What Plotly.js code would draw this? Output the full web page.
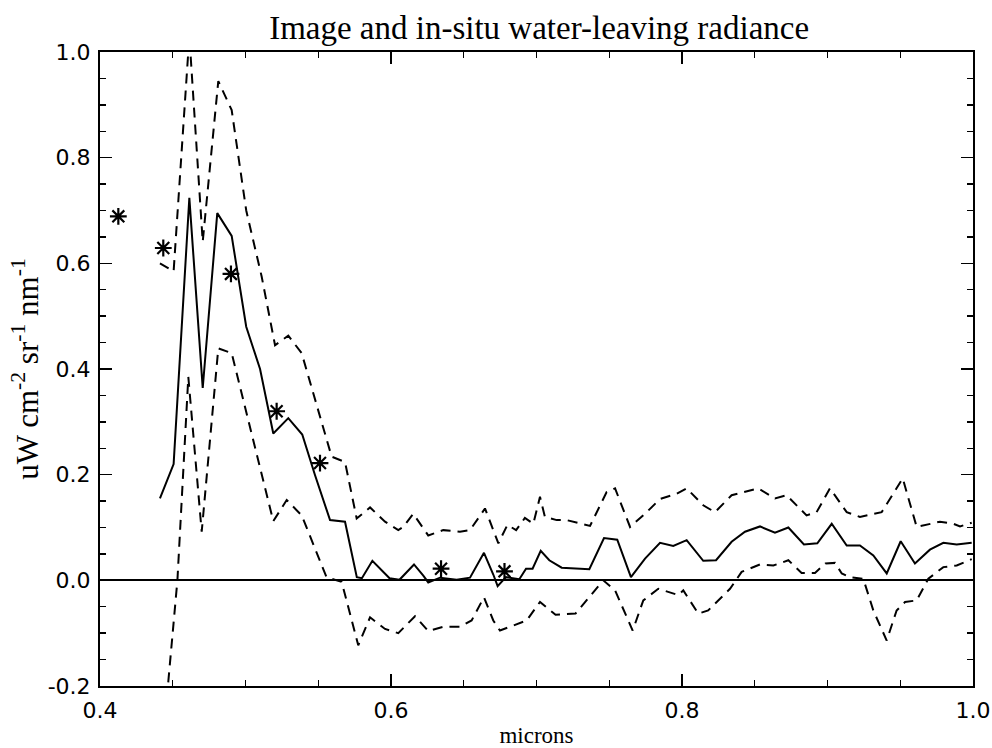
<!DOCTYPE html>
<html>
<head>
<meta charset="utf-8">
<script src="https://cdn.plot.ly/plotly-3.0.1.min.js"></script>
<style>html,body{margin:0;padding:0;background:#fff;}#chart{width:992px;height:748px;}</style>
</head>
<body>
<div id="chart"></div>
<script>
// Image (mean) water-leaving radiance
const imageX = [0.4412,0.4506,0.4614,0.4706,0.4806,0.4905,0.5005,0.5100,0.5191,0.5294,0.5390,0.5478,0.5581,0.5684,0.5765,0.5800,0.5872,0.5990,0.6058,0.6158,0.6222,0.6256,0.6337,0.6451,0.6543,0.6639,0.6703,0.6733,0.6790,0.6882,0.6928,0.6973,0.7029,0.7088,0.7173,0.7363,0.7464,0.7555,0.7649,0.7746,0.7849,0.7940,0.8032,0.8146,0.8234,0.8341,0.8433,0.8536,0.8639,0.8731,0.8838,0.8930,0.9029,0.9132,0.9223,0.9315,0.9407,0.9503,0.9601,0.9704,0.9796,0.9888,0.9991];
const imageY = [0.155,0.220,0.724,0.364,0.695,0.652,0.480,0.400,0.278,0.307,0.276,0.199,0.114,0.111,0.006,0.004,0.037,0.004,0.001,0.030,0.009,-0.004,0.005,0.001,0.005,0.052,0.011,-0.011,0.006,0.002,0.022,0.022,0.056,0.038,0.024,0.021,0.080,0.077,0.006,0.041,0.071,0.065,0.076,0.037,0.038,0.073,0.092,0.102,0.090,0.100,0.068,0.070,0.107,0.066,0.066,0.047,0.013,0.074,0.032,0.058,0.071,0.068,0.071];

// Upper bound (dashed)
const upperX = [0.4412,0.4506,0.4614,0.4706,0.4813,0.4905,0.5005,0.5111,0.5203,0.5294,0.5386,0.5490,0.5592,0.5684,0.5764,0.5856,0.5959,0.6050,0.6084,0.6153,0.6256,0.6359,0.6474,0.6543,0.6646,0.6738,0.6800,0.6860,0.6920,0.6978,0.7024,0.7058,0.7139,0.7207,0.7368,0.7482,0.7540,0.7643,0.7757,0.7849,0.7963,0.8032,0.8146,0.8227,0.8341,0.8524,0.8639,0.8719,0.8856,0.8925,0.9017,0.9132,0.9223,0.9372,0.9517,0.9613,0.9773,0.9865,0.9911,0.9991];
const upperY = [0.600,0.585,1.030,0.641,0.945,0.890,0.700,0.575,0.445,0.463,0.430,0.330,0.234,0.224,0.117,0.138,0.111,0.095,0.101,0.126,0.085,0.095,0.092,0.095,0.136,0.070,0.105,0.095,0.118,0.107,0.158,0.120,0.114,0.114,0.103,0.167,0.174,0.101,0.129,0.154,0.164,0.174,0.142,0.129,0.161,0.174,0.155,0.161,0.123,0.129,0.174,0.129,0.120,0.129,0.193,0.101,0.111,0.107,0.102,0.109];

// Lower bound (dashed)
const lowerX = [0.4412,0.4470,0.4532,0.4607,0.4699,0.4813,0.4905,0.5005,0.5100,0.5191,0.5283,0.5386,0.5557,0.5661,0.5775,0.5856,0.5959,0.6050,0.6165,0.6256,0.6359,0.6474,0.6554,0.6639,0.6703,0.6749,0.6932,0.7024,0.7131,0.7268,0.7459,0.7540,0.7661,0.7734,0.7837,0.7975,0.8009,0.8112,0.8180,0.8330,0.8410,0.8536,0.8628,0.8731,0.8822,0.8914,0.8986,0.9052,0.9098,0.9155,0.9246,0.9315,0.9407,0.9475,0.9533,0.9613,0.9693,0.9796,0.9888,0.9991];
const lowerY = [-0.450,-0.190,0.000,0.385,0.092,0.439,0.430,0.320,0.210,0.112,0.152,0.123,0.006,-0.003,-0.123,-0.070,-0.092,-0.100,-0.068,-0.096,-0.088,-0.088,-0.076,-0.032,-0.076,-0.095,-0.076,-0.041,-0.065,-0.063,0.000,-0.019,-0.095,-0.038,-0.016,-0.028,-0.019,-0.063,-0.057,-0.016,0.016,0.030,0.028,0.038,0.014,0.014,0.032,0.033,0.013,0.006,0.003,-0.057,-0.114,-0.057,-0.041,-0.038,0.003,0.025,0.028,0.040];

// In-situ measurements (asterisks)
const insituX = [0.4126,0.4435,0.4900,0.5214,0.5512,0.6344,0.6780];
const insituY = [0.689,0.629,0.580,0.320,0.222,0.022,0.017];

// Axis ticks
const xTickVals = [0.4,0.6,0.8,1.0];
const xTickText = ["0.4","0.6","0.8","1.0"];
const yTickVals = [-0.2,0.0,0.2,0.4,0.6,0.8,1.0];
const yTickText = ["-0.2","0.0","0.2","0.4","0.6","0.8","1.0"];

const dashStyle = "10px,7px";
const traces = [
  {x: upperX, y: upperY, mode: "lines", line: {color: "#000", width: 2, dash: dashStyle}, hoverinfo: "skip"},
  {x: lowerX, y: lowerY, mode: "lines", line: {color: "#000", width: 2, dash: dashStyle}, hoverinfo: "skip"},
  {x: imageX, y: imageY, mode: "lines", line: {color: "#000", width: 2}, hoverinfo: "skip"},
  {x: insituX, y: insituY, mode: "markers", marker: {symbol: "asterisk-open", size: 14, color: "#000", line: {color: "#000", width: 2.2}}, hoverinfo: "skip"}
];

const axisCommon = {
  showgrid: false, showline: true, linecolor: "#000", linewidth: 2,
  mirror: "allticks", ticks: "inside", ticklen: 12, tickwidth: 1.6, tickcolor: "#000",
  tickfont: {family: "DejaVu Sans", size: 22, color: "#000"},
  minor: {ticks: "inside", ticklen: 6, tickwidth: 1.4, tickcolor: "#000", dtick: 0.05, showgrid: false}
};

const layout = {
  width: 992, height: 748,
  paper_bgcolor: "#fff", plot_bgcolor: "#fff",
  showlegend: false,
  margin: {l: 100, r: 19, t: 52, b: 62},
  title: {text: "Image and in-situ water-leaving radiance", font: {family: "Liberation Serif, serif", size: 33, color: "#000"}, x: 0.5435, xanchor: "center", y: 0.963, yanchor: "middle"},
  xaxis: Object.assign({}, axisCommon, {
    range: [0.4, 1.0], tickmode: "array", tickvals: xTickVals, ticktext: xTickText, zeroline: false,
    ticklabelstandoff: 4,
    title: {text: "microns", font: {family: "Liberation Serif, serif", size: 23, color: "#000"}, standoff: 4}
  }),
  yaxis: Object.assign({}, axisCommon, {
    range: [-0.2, 1.0], tickmode: "array", tickvals: yTickVals, ticktext: yTickText,
    zeroline: true, zerolinecolor: "#000", zerolinewidth: 2,
    ticklabelstandoff: 3,
    title: {text: "uW cm<sup>-2</sup> sr<sup>-1</sup> nm<sup>-1</sup>", font: {family: "Liberation Serif, serif", size: 31, color: "#000"}, standoff: 0}
  })
};

Plotly.newPlot("chart", traces, layout, {displayModeBar: false, staticPlot: true});
</script>
</body>
</html>
